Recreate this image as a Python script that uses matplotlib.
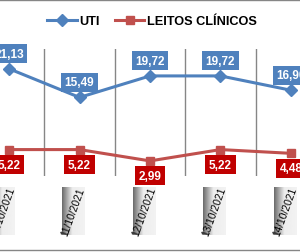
import matplotlib.pyplot as plt
import numpy as np
from matplotlib.lines import Line2D

# visible slice of the chart
datas = ["10/10/2021", "11/10/2021", "12/10/2021", "13/10/2021", "14/10/2021"]
uti = [21.13, 15.49, 19.72, 19.72, 16.90]
leitos = [5.22, 5.22, 2.99, 5.22, 4.48]

azul = "#4f81bd"
vermelho = "#c0504d"
vermelho_label = "#c00000"
cinza = "#868686"

plt.rcParams["font.family"] = ["Liberation Sans", "DejaVu Sans"]

fig = plt.figure(figsize=(3.0, 2.53), dpi=100)
ax = fig.add_axes([0, 0.300, 1, 0.502])

x = np.arange(len(datas))
ax.plot(x, uti, color=azul, lw=2.2, marker="D", ms=6, zorder=3)
ax.plot(x, leitos, color=vermelho, lw=2.2, marker="s", ms=6, zorder=3)

ax.set_xlim(-0.128, 4.128)
ax.set_ylim(0, 25)
ax.set_xticks(x[:-1] + 0.5, minor=True)
ax.set_xticks([])
ax.set_yticks([])
ax.grid(True, which="minor", axis="x", color=cinza, lw=1)
ax.tick_params(which="both", length=0)
for s in ax.spines.values():
    s.set_visible(False)

def fmt(v):
    return f"{v:.2f}".replace(".", ",")

for xi, v in zip(x, uti):
    ax.annotate(fmt(v), (xi, v), xytext=(0, 6.5), textcoords="offset points",
                ha="center", va="bottom", color="white", fontsize=8.5, fontweight="bold",
                bbox=dict(boxstyle="square,pad=0.3", fc=azul, ec="none"), zorder=5)
for xi, v in zip(x, leitos):
    ax.annotate(fmt(v), (xi, v), xytext=(0, -6.5), textcoords="offset points",
                ha="center", va="top", color="white", fontsize=8.5, fontweight="bold",
                bbox=dict(boxstyle="square,pad=0.3", fc=vermelho_label, ec="none"), zorder=5)

# category labels with Excel-like gradient boxes
lab = fig.add_axes([0, 0, 1, 1], zorder=-1)
lab.set_xlim(ax.get_xlim())
lab.set_ylim(253, 0)
lab.axis("off")
grad = np.interp(np.linspace(0, 1, 50), [0, 0.45, 1], [0.42, 0.93, 0.95])
grad = np.tile(grad, (10, 1))
for xi, d in zip(x, datas):
    cx = xi - 0.085
    lab.imshow(grad, cmap="gray", vmin=0, vmax=1, aspect="auto",
               extent=[cx - 0.16, cx + 0.16, 236, 188], zorder=1)
    lab.text(cx, 212, d, rotation=70, ha="center", va="center",
             fontsize=7.4, color="black", zorder=2)

# chart border (top and bottom edges visible)
fig.add_artist(Line2D([0, 1], [0.996, 0.996], color=cinza, lw=1, transform=fig.transFigure))
fig.add_artist(Line2D([0, 1], [0.008, 0.008], color=cinza, lw=1, transform=fig.transFigure))

handles = [Line2D([], [], color=azul, lw=2.2, marker="D", ms=6),
           Line2D([], [], color=vermelho, lw=2.2, marker="s", ms=6)]
fig.legend(handles, ["UTI", "LEITOS CLÍNICOS"], loc="center", bbox_to_anchor=(0.507, 0.913),
           ncol=2, frameon=False, handlelength=2.3, handletextpad=0.2, columnspacing=1.2,
           prop=dict(size=9.2, weight="bold"))

fig.savefig("out.png", dpi=100)
